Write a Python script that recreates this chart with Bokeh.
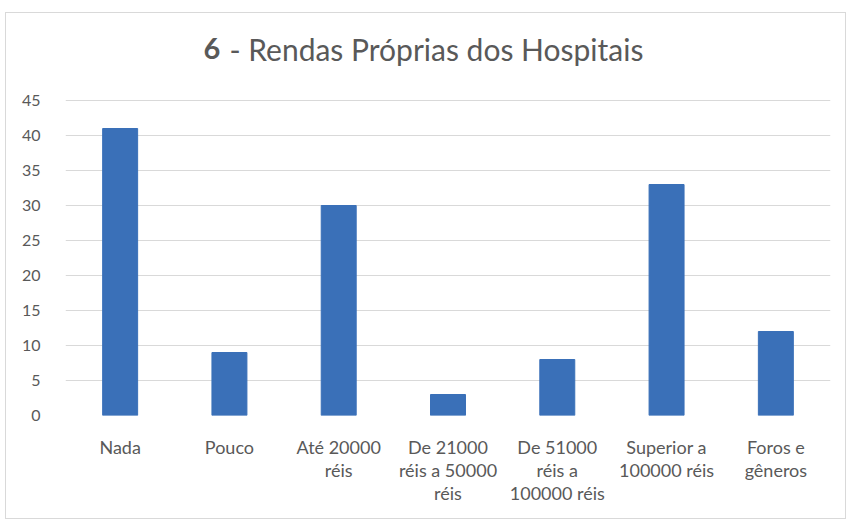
from bokeh.plotting import figure
from bokeh.models import Range1d, FactorRange, Label, FixedTicker
from bokeh.embed import file_html
from bokeh.resources import INLINE

categories = ["Nada", "Pouco", "Até 20000\nréis", "De 21000\nréis a 50000\nréis",
              "De 51000\nréis a\n100000 réis", "Superior a\n100000 réis", "Foros e\ngêneros"]
values = [41, 9, 30, 3, 8, 33, 12]
y_ticks = [0, 5, 10, 15, 20, 25, 30, 35, 40, 45]
title_num = "6"
title_rest = "- Rendas Próprias dos Hospitais"

FONT = "Lato"
GREY = "#595959"

p = figure(width=841, height=507, x_range=FactorRange(*categories), y_range=Range1d(0, 57),
           output_backend="svg", toolbar_location=None,
           min_border_left=59, min_border_right=17, min_border_top=3, min_border_bottom=105)
p.vbar(x=categories, top=values, width=0.32, fill_color="#3a70b8", line_color="#3a70b8")

p.outline_line_color = None
p.xgrid.grid_line_color = None
p.ygrid.grid_line_color = "#d9d9d9"
p.ygrid.grid_line_width = 1
p.yaxis.ticker = FixedTicker(ticks=y_ticks)
for ax in (p.xaxis, p.yaxis):
    ax.axis_line_color = None
    ax.major_tick_line_color = None
    ax.minor_tick_line_color = None
    ax.major_label_text_color = GREY
    ax.major_label_text_font = FONT
p.xaxis.major_label_text_font_size = "18px"
p.yaxis.major_label_text_font_size = "16px"
p.xaxis.major_label_standoff = 14
p.yaxis.major_label_standoff = 19
p.xaxis.major_label_text_line_height = 1.05

# title drawn inside the (extended) frame, above the 45 gridline
p.add_layout(Label(x=1.263, y=52.4, text=title_num,
                   text_font=FONT, text_font_size="29px", text_font_style="bold",
                   text_color=GREY, text_align="left", text_baseline="middle"))
p.add_layout(Label(x=1.50, y=52.4, text=title_rest,
                   text_font=FONT, text_font_size="30px",
                   text_color=GREY, text_align="left", text_baseline="middle"))
p.styles = {"border": "1px solid #d9d9d9", "margin-left": "5px", "margin-top": "12px"}

open("out.html", "w").write(file_html(p, INLINE))
